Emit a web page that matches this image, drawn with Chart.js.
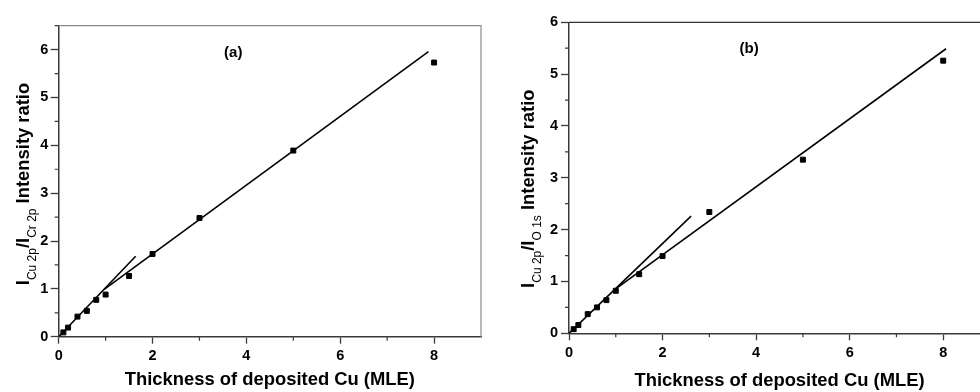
<!DOCTYPE html>
<html>
<head>
<meta charset="utf-8">
<script src="https://cdn.jsdelivr.net/npm/chart.js@4.4.0/dist/chart.umd.min.js"></script>
<style>
  html, body { margin: 0; padding: 0; background: #fff; overflow: hidden; }
  #wrap { position: relative; width: 980px; height: 392px; overflow: hidden; }
  #chart-a { position: absolute; left: 0; top: 0; }
  #chart-b { position: absolute; left: 490px; top: 0; }
</style>
</head>
<body>
<div id="wrap">
  <canvas id="chart-a" width="490" height="392"></canvas>
  <canvas id="chart-b" width="520" height="392"></canvas>
</div>
<script>
// Deposited Cu thickness (MLE), same for both panels
const thickness = [0.1, 0.2, 0.4, 0.6, 0.8, 1, 1.5, 2, 3, 5, 8];

// (a) I Cu2p / I Cr2p
const ratio_cu_cr = [0.09, 0.19, 0.42, 0.54, 0.77, 0.88, 1.27, 1.73, 2.48, 3.89, 5.73];
// (b) I Cu2p / I O1s
const ratio_cu_o = [0.08, 0.16, 0.37, 0.50, 0.64, 0.82, 1.14, 1.49, 2.34, 3.35, 5.26];

// fit lines, start and end points
const fit_a_first_x = [0, 1.64];
const fit_a_first_y = [0, 1.68];
const fit_a_second_x = [0.97, 7.88];
const fit_a_second_y = [0.99, 5.96];

const fit_b_first_x = [0, 2.61];
const fit_b_first_y = [0, 2.26];
const fit_b_second_x = [1.02, 8.06];
const fit_b_second_y = [0.87, 5.49];

const x_title = 'Thickness of deposited Cu (MLE)';
const title_a = [['I', false], ['Cu 2p', true], ['/I', false], ['Cr 2p', true], [' Intensity ratio', false]];
const title_b = [['I', false], ['Cu 2p', true], ['/I', false], ['O 1s', true], [' Intensity ratio', false]];

const font_family = '"Liberation Sans", Arial, sans-serif';
const axis_color = '#3a3a3a';

const to_points = (xs, ys) => xs.map((x, i) => ({ x: x, y: ys[i] }));

// draws frame, minor ticks, panel letter and the y title (it has subscripts)
const extras_plugin = {
  id: 'extras',
  afterDraw(chart, args, opts) {
    const ctx = chart.ctx;
    const a = chart.chartArea;
    const x = chart.scales.x;
    const y = chart.scales.y;
    ctx.save();

    // top + right frame
    ctx.strokeStyle = opts.frame_color;
    ctx.lineWidth = 1.2;
    ctx.beginPath();
    ctx.moveTo(a.left, a.top);
    ctx.lineTo(a.right, a.top);
    ctx.lineTo(a.right, a.bottom);
    ctx.stroke();

    // minor ticks
    ctx.strokeStyle = axis_color;
    ctx.lineWidth = 1.2;
    ctx.beginPath();
    y.ticks.forEach(t => {
      if (!Number.isInteger(t.value)) {
        const py = y.getPixelForValue(t.value);
        ctx.moveTo(a.left - 4, py);
        ctx.lineTo(a.left, py);
      }
    });
    x.ticks.forEach(t => {
      if (t.value % 2 !== 0 && t.value < x.max) {
        const px = x.getPixelForValue(t.value);
        ctx.moveTo(px, a.bottom);
        ctx.lineTo(px, a.bottom + 4);
      }
    });
    ctx.stroke();

    // panel letter
    ctx.fillStyle = '#000';
    ctx.font = 'bold 15px ' + font_family;
    ctx.textAlign = 'center';
    ctx.textBaseline = 'middle';
    ctx.fillText(opts.letter, x.getPixelForValue(opts.letter_x), y.getPixelForValue(opts.letter_y));

    // y title, rotated
    const big = 'bold 18.4px ' + font_family;
    const small = '12px ' + font_family;
    let total = 0;
    const widths = opts.title.map(p => {
      ctx.font = p[1] ? small : big;
      const w = ctx.measureText(p[0]).width;
      total += w;
      return w;
    });
    ctx.translate(opts.title_x, opts.title_y);
    ctx.rotate(-Math.PI / 2);
    ctx.textAlign = 'left';
    ctx.textBaseline = 'alphabetic';
    let pos = -total / 2;
    opts.title.forEach((p, i) => {
      ctx.font = p[1] ? small : big;
      ctx.fillText(p[0], pos, p[1] ? 7 : 0);
      pos += widths[i];
    });

    ctx.restore();
  }
};

function make_chart(canvas, s) {
  return new Chart(canvas, {
    type: 'scatter',
    data: {
      datasets: [
        {
          type: 'line',
          data: to_points(s.fit1_x, s.fit1_y),
          borderColor: '#000',
          borderWidth: 1.6,
          pointRadius: 0
        },
        {
          type: 'line',
          data: to_points(s.fit2_x, s.fit2_y),
          borderColor: '#000',
          borderWidth: 1.6,
          pointRadius: 0
        },
        {
          data: to_points(thickness, s.ratio),
          pointStyle: 'rect',
          pointRadius: 3.5,
          borderWidth: 1,
          backgroundColor: '#000',
          borderColor: '#000'
        }
      ]
    },
    options: {
      responsive: false,
      animation: false,
      events: [],
      layout: { padding: { left: 0, top: s.pad_top, right: s.pad_right, bottom: 0 } },
      plugins: {
        legend: { display: false },
        tooltip: { enabled: false },
        extras: s.extras
      },
      scales: {
        x: {
          type: 'linear',
          min: 0,
          max: 9,
          ticks: {
            stepSize: 1,
            autoSkip: false,
            maxRotation: 0,
            padding: 4,
            color: '#000',
            font: { family: font_family, size: 14.5, weight: 'bold' },
            callback: v => v % 2 === 0 ? v : ''
          },
          grid: {
            drawOnChartArea: false,
            tickLength: 7,
            tickWidth: 1.3,
            tickColor: c => (c.tick && c.tick.value % 2 === 0) ? axis_color : 'rgba(0,0,0,0)'
          },
          border: { color: axis_color, width: 1.5 },
          title: {
            display: true,
            text: x_title,
            color: '#000',
            font: { family: font_family, size: 18.4, weight: 'bold' },
            padding: { top: 0, bottom: s.x_title_pad }
          },
          afterFit: scale => { scale.height = s.x_height; }
        },
        y: {
          type: 'linear',
          min: 0,
          max: s.y_max,
          ticks: {
            stepSize: 0.5,
            autoSkip: false,
            padding: s.y_tick_pad,
            color: '#000',
            font: { family: font_family, size: 14.5, weight: 'bold' },
            callback: v => Number.isInteger(v) ? v : ''
          },
          grid: {
            drawOnChartArea: false,
            tickLength: 8,
            tickWidth: 1.3,
            tickColor: c => (c.tick && Number.isInteger(c.tick.value)) ? axis_color : 'rgba(0,0,0,0)'
          },
          border: { color: axis_color, width: 1.5 },
          afterFit: scale => { scale.width = s.y_width; }
        }
      }
    },
    plugins: [extras_plugin]
  });
}

const chart_a = make_chart(document.getElementById('chart-a'), {
  ratio: ratio_cu_cr,
  fit1_x: fit_a_first_x, fit1_y: fit_a_first_y,
  fit2_x: fit_a_second_x, fit2_y: fit_a_second_y,
  y_max: 6.5,
  pad_top: 25.7,
  pad_right: 9,
  x_height: 55.3,
  y_width: 58.7,
  y_tick_pad: 2.5,
  x_title_pad: 1,
  extras: {
    frame_color: '#8c8c8c',
    letter: '(a)', letter_x: 3.72, letter_y: 5.94,
    title: title_a, title_x: 28.8, title_y: 184
  }
});

const chart_b = make_chart(document.getElementById('chart-b'), {
  ratio: ratio_cu_o,
  fit1_x: fit_b_first_x, fit1_y: fit_b_first_y,
  fit2_x: fit_b_second_x, fit2_y: fit_b_second_y,
  y_max: 6,
  pad_top: 22.3,
  pad_right: 20,
  x_height: 58.7,
  y_width: 79,
  y_tick_pad: 3,
  x_title_pad: 0,
  extras: {
    frame_color: '#333',
    letter: '(b)', letter_x: 3.85, letter_y: 5.48,
    title: title_b, title_x: 43.5, title_y: 188.7
  }
});
</script>
</body>
</html>
